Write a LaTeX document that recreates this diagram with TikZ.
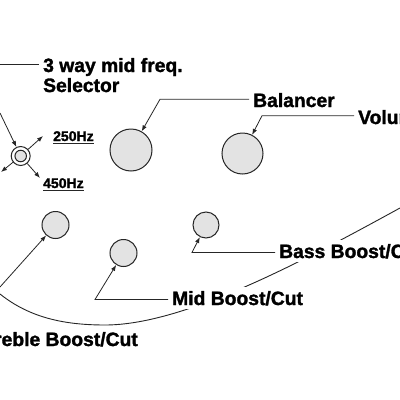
\documentclass[tikz,border=0pt]{standalone}
\usepackage{fontspec}
\newfontfamily\lab{Liberation Sans}[BoldFeatures={FakeBold=1.6}]
\usetikzlibrary{arrows.meta}
\begin{document}
\begin{tikzpicture}[x=1pt,y=-1pt,
  knob/.style={circle,draw=black!85,line width=1pt,fill=black!11,inner sep=0,minimum size=#1},
  lead/.style={draw=black!85,line width=0.8pt},
  tip/.style={-{Latex[length=6pt,width=4.5pt]}},
  lbl/.style={font=\lab\bfseries\fontsize{19.3}{19.3}\selectfont,text=black,anchor=base west,inner sep=4pt},
  mask/.style={fill=white},
  hz/.style={font=\lab\bfseries\fontsize{14}{14}\selectfont,text=black,anchor=base west,inner sep=0}]
\useasboundingbox (0,0) rectangle (400,400);
\clip (0,0) rectangle (400,400);
% knobs
\node[knob=42pt] (bal) at (131,150) {};
\node[knob=41pt] (vol) at (242.5,153.5) {};
\node[knob=27pt] (tre) at (55.5,225) {};
\node[knob=27pt] (mid) at (123.5,253) {};
\node[knob=26pt] (bass) at (206,225) {};
\node[circle,draw=black!85,line width=1pt,fill=white,minimum size=19pt,inner sep=0] (sel) at (20.7,156) {};
\node[knob=11.5pt] (seli) at (sel.center) {};
% big curve
\draw[line width=0.9pt,black!85] (0,294) .. controls (30,318) and (65,325) .. (105,325) .. controls (185,325) and (305,260) .. (400,208);
% labels
\node[lbl] (t3) at (39,72) {3 way mid freq.};
\node[lbl] (tsel) at (39,92) {Selector};
\node[lbl] (balt) at (249,107) {Balancer};
\node[lbl] (volt) at (354,124) {Volume};
\node[lbl,mask,anchor=base east] (tret) at (142,346) {Treble Boost/Cut};
\node[lbl,mask] (midt) at (168,305) {Mid Boost/Cut};
\node[lbl,mask] (basst) at (275,258) {Bass Boost/Cut};
\node[hz] (f250) at (53,141) {250Hz};
\node[hz] (f450) at (43,188) {450Hz};
\draw[lead] ([yshift=-2.5pt]f250.base west) -- ([yshift=-2.5pt]f250.base east);
\draw[lead] ([yshift=-2.5pt]f450.base west) -- ([yshift=-2.5pt]f450.base east);
% coordinates
\coordinate (c3) at (0,64);
\coordinate (balc) at (160,99.3);
\coordinate (volc) at (262,115.7);
\coordinate (trec) at (0,287);
\coordinate (midc) at (95,299.5);
\coordinate (bassc) at (192,252.5);
\coordinate (selin) at (0,113);
\coordinate (sur) at (43,136);
\coordinate (slr) at (40,178);
\coordinate (sll) at (1,172);
% leaders
\draw[lead] (c3) -- (c3 -| t3.west);
\draw[lead,tip] (balc -| balt.west) -- (balc) -- (bal);
\draw[lead,tip] (volc -| volt.west) -- (volc) -- (vol);
\draw[lead,tip] (trec) -- (tre);
\draw[lead,tip] (midc -| midt.west) -- (midc) -- (mid);
\draw[lead,tip] (bassc -| basst.west) -- (bassc) -- (bass);
\draw[lead,tip] (selin) -- (sel);
\draw[lead,tip] (sel) -- (sur);
\draw[lead,tip] (sel) -- (slr);
\draw[lead,tip] (sel) -- (sll);
\end{tikzpicture}
\end{document}
